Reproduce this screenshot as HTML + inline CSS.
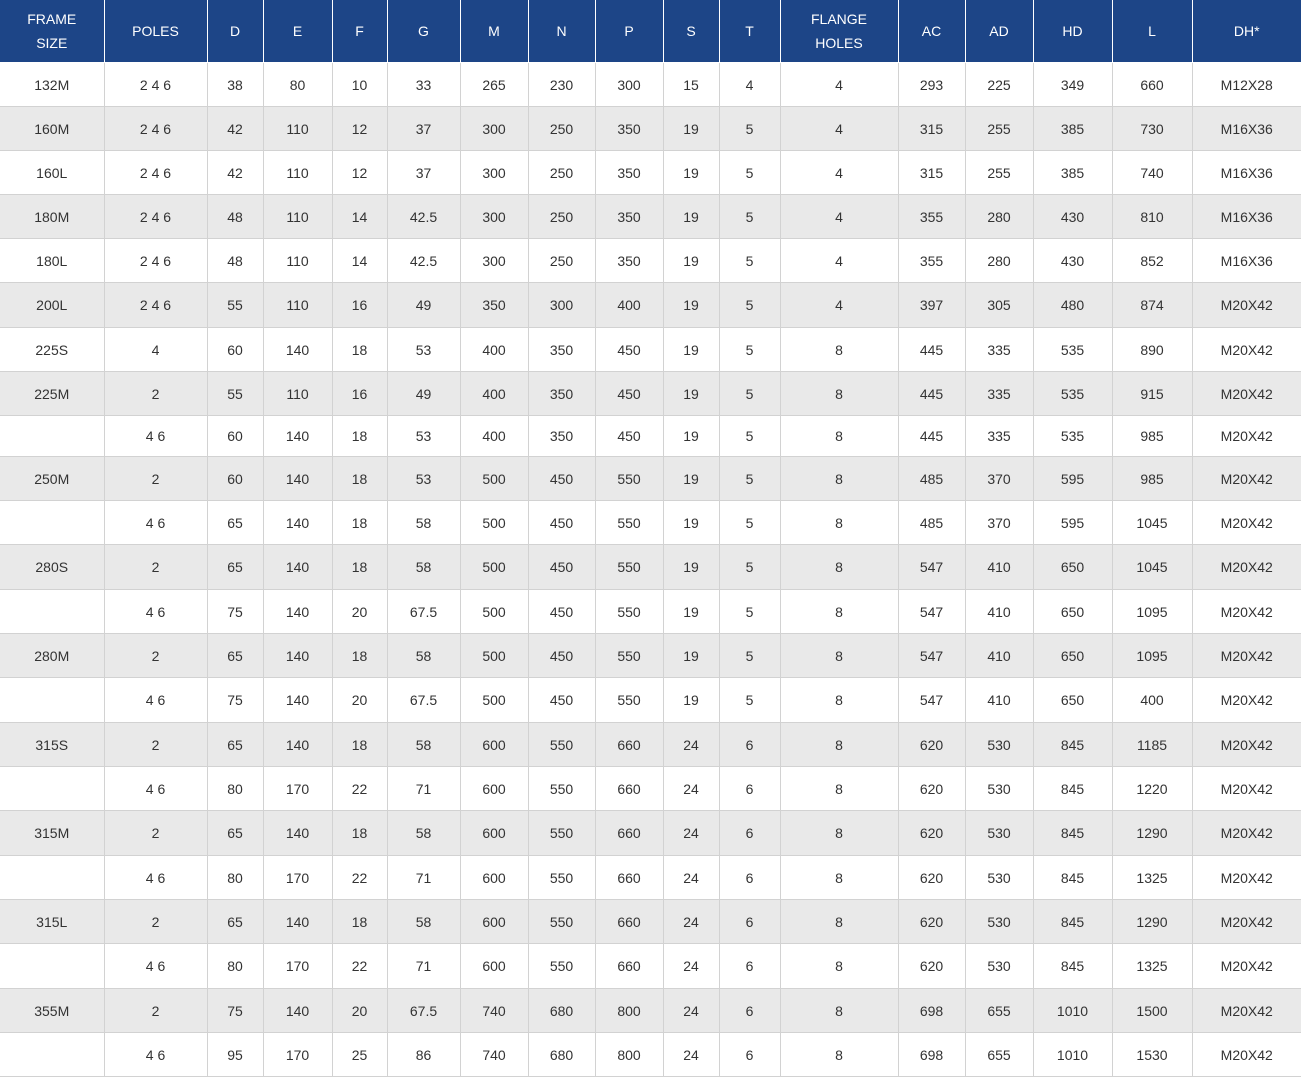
<!DOCTYPE html>
<html><head><meta charset="utf-8"><style>
html,body{margin:0;padding:0;background:#fff;}
table{border-collapse:collapse;table-layout:fixed;width:1301px;font-family:"Liberation Sans",Arial,sans-serif;font-size:14px;color:#333;}
td,th{border:1px solid #d2d2d2;text-align:center;padding:0;font-weight:normal;}
td:first-child,th:first-child{border-left:none;}
td:last-child,th:last-child{border-right:none;}
th{background:#1d4587;color:#fff;border-color:#fff;border-top:none;line-height:24px;height:62px;}
tr:nth-child(even) td{background:#e9e9e9;}
td{height:43px;}
tr.s td{height:40px;}
tr.t td{height:44px;}
</style></head><body>
<table>
<colgroup><col style="width:104px"><col style="width:103px"><col style="width:56px"><col style="width:69px"><col style="width:55px"><col style="width:73px"><col style="width:68px"><col style="width:67px"><col style="width:68px"><col style="width:56px"><col style="width:61px"><col style="width:118px"><col style="width:67px"><col style="width:68px"><col style="width:79px"><col style="width:80px"><col style="width:109px"></colgroup>
<thead><tr><th>FRAME<br>SIZE</th><th>POLES</th><th>D</th><th>E</th><th>F</th><th>G</th><th>M</th><th>N</th><th>P</th><th>S</th><th>T</th><th>FLANGE<br>HOLES</th><th>AC</th><th>AD</th><th>HD</th><th>L</th><th>DH*</th></tr></thead>
<tbody>
<tr><td>132M</td><td>2 4 6</td><td>38</td><td>80</td><td>10</td><td>33</td><td>265</td><td>230</td><td>300</td><td>15</td><td>4</td><td>4</td><td>293</td><td>225</td><td>349</td><td>660</td><td>M12X28</td></tr>
<tr><td>160M</td><td>2 4 6</td><td>42</td><td>110</td><td>12</td><td>37</td><td>300</td><td>250</td><td>350</td><td>19</td><td>5</td><td>4</td><td>315</td><td>255</td><td>385</td><td>730</td><td>M16X36</td></tr>
<tr><td>160L</td><td>2 4 6</td><td>42</td><td>110</td><td>12</td><td>37</td><td>300</td><td>250</td><td>350</td><td>19</td><td>5</td><td>4</td><td>315</td><td>255</td><td>385</td><td>740</td><td>M16X36</td></tr>
<tr><td>180M</td><td>2 4 6</td><td>48</td><td>110</td><td>14</td><td>42.5</td><td>300</td><td>250</td><td>350</td><td>19</td><td>5</td><td>4</td><td>355</td><td>280</td><td>430</td><td>810</td><td>M16X36</td></tr>
<tr><td>180L</td><td>2 4 6</td><td>48</td><td>110</td><td>14</td><td>42.5</td><td>300</td><td>250</td><td>350</td><td>19</td><td>5</td><td>4</td><td>355</td><td>280</td><td>430</td><td>852</td><td>M16X36</td></tr>
<tr class="t"><td>200L</td><td>2 4 6</td><td>55</td><td>110</td><td>16</td><td>49</td><td>350</td><td>300</td><td>400</td><td>19</td><td>5</td><td>4</td><td>397</td><td>305</td><td>480</td><td>874</td><td>M20X42</td></tr>
<tr><td>225S</td><td>4</td><td>60</td><td>140</td><td>18</td><td>53</td><td>400</td><td>350</td><td>450</td><td>19</td><td>5</td><td>8</td><td>445</td><td>335</td><td>535</td><td>890</td><td>M20X42</td></tr>
<tr><td>225M</td><td>2</td><td>55</td><td>110</td><td>16</td><td>49</td><td>400</td><td>350</td><td>450</td><td>19</td><td>5</td><td>8</td><td>445</td><td>335</td><td>535</td><td>915</td><td>M20X42</td></tr>
<tr class="s"><td></td><td>4 6</td><td>60</td><td>140</td><td>18</td><td>53</td><td>400</td><td>350</td><td>450</td><td>19</td><td>5</td><td>8</td><td>445</td><td>335</td><td>535</td><td>985</td><td>M20X42</td></tr>
<tr><td>250M</td><td>2</td><td>60</td><td>140</td><td>18</td><td>53</td><td>500</td><td>450</td><td>550</td><td>19</td><td>5</td><td>8</td><td>485</td><td>370</td><td>595</td><td>985</td><td>M20X42</td></tr>
<tr><td></td><td>4 6</td><td>65</td><td>140</td><td>18</td><td>58</td><td>500</td><td>450</td><td>550</td><td>19</td><td>5</td><td>8</td><td>485</td><td>370</td><td>595</td><td>1045</td><td>M20X42</td></tr>
<tr class="t"><td>280S</td><td>2</td><td>65</td><td>140</td><td>18</td><td>58</td><td>500</td><td>450</td><td>550</td><td>19</td><td>5</td><td>8</td><td>547</td><td>410</td><td>650</td><td>1045</td><td>M20X42</td></tr>
<tr><td></td><td>4 6</td><td>75</td><td>140</td><td>20</td><td>67.5</td><td>500</td><td>450</td><td>550</td><td>19</td><td>5</td><td>8</td><td>547</td><td>410</td><td>650</td><td>1095</td><td>M20X42</td></tr>
<tr><td>280M</td><td>2</td><td>65</td><td>140</td><td>18</td><td>58</td><td>500</td><td>450</td><td>550</td><td>19</td><td>5</td><td>8</td><td>547</td><td>410</td><td>650</td><td>1095</td><td>M20X42</td></tr>
<tr class="t"><td></td><td>4 6</td><td>75</td><td>140</td><td>20</td><td>67.5</td><td>500</td><td>450</td><td>550</td><td>19</td><td>5</td><td>8</td><td>547</td><td>410</td><td>650</td><td>400</td><td>M20X42</td></tr>
<tr><td>315S</td><td>2</td><td>65</td><td>140</td><td>18</td><td>58</td><td>600</td><td>550</td><td>660</td><td>24</td><td>6</td><td>8</td><td>620</td><td>530</td><td>845</td><td>1185</td><td>M20X42</td></tr>
<tr><td></td><td>4 6</td><td>80</td><td>170</td><td>22</td><td>71</td><td>600</td><td>550</td><td>660</td><td>24</td><td>6</td><td>8</td><td>620</td><td>530</td><td>845</td><td>1220</td><td>M20X42</td></tr>
<tr class="t"><td>315M</td><td>2</td><td>65</td><td>140</td><td>18</td><td>58</td><td>600</td><td>550</td><td>660</td><td>24</td><td>6</td><td>8</td><td>620</td><td>530</td><td>845</td><td>1290</td><td>M20X42</td></tr>
<tr><td></td><td>4 6</td><td>80</td><td>170</td><td>22</td><td>71</td><td>600</td><td>550</td><td>660</td><td>24</td><td>6</td><td>8</td><td>620</td><td>530</td><td>845</td><td>1325</td><td>M20X42</td></tr>
<tr><td>315L</td><td>2</td><td>65</td><td>140</td><td>18</td><td>58</td><td>600</td><td>550</td><td>660</td><td>24</td><td>6</td><td>8</td><td>620</td><td>530</td><td>845</td><td>1290</td><td>M20X42</td></tr>
<tr class="t"><td></td><td>4 6</td><td>80</td><td>170</td><td>22</td><td>71</td><td>600</td><td>550</td><td>660</td><td>24</td><td>6</td><td>8</td><td>620</td><td>530</td><td>845</td><td>1325</td><td>M20X42</td></tr>
<tr><td>355M</td><td>2</td><td>75</td><td>140</td><td>20</td><td>67.5</td><td>740</td><td>680</td><td>800</td><td>24</td><td>6</td><td>8</td><td>698</td><td>655</td><td>1010</td><td>1500</td><td>M20X42</td></tr>
<tr><td></td><td>4 6</td><td>95</td><td>170</td><td>25</td><td>86</td><td>740</td><td>680</td><td>800</td><td>24</td><td>6</td><td>8</td><td>698</td><td>655</td><td>1010</td><td>1530</td><td>M20X42</td></tr>
</tbody></table>
</body></html>
